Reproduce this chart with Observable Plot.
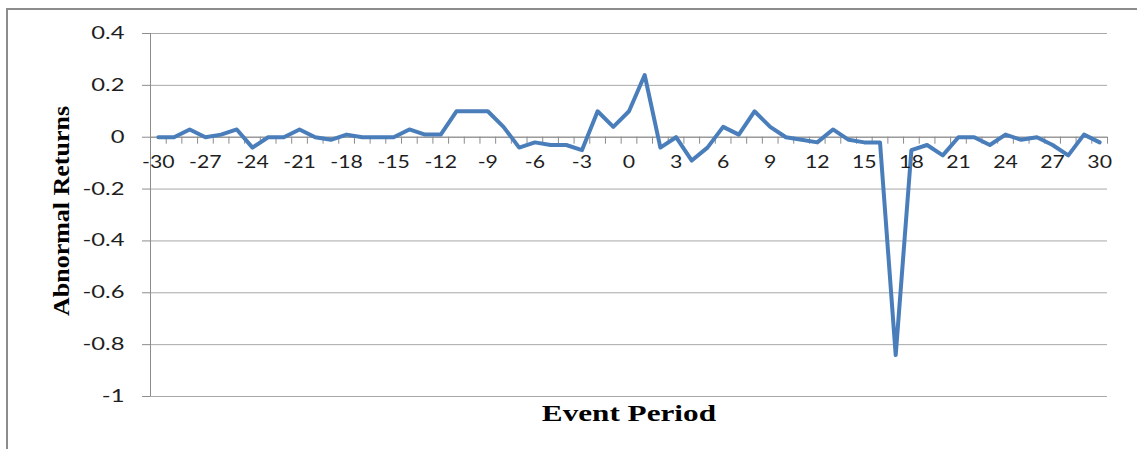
<!DOCTYPE html>
<html>
<head>
<meta charset="utf-8">
<script src="https://cdn.jsdelivr.net/npm/d3@7"></script>
<script src="https://cdn.jsdelivr.net/npm/@observablehq/plot@0.6"></script>
<style>
  html, body { margin: 0; padding: 0; background: #fff; overflow: hidden; }
  #wrap { position: relative; width: 1137px; height: 449px; }
  #border { position: absolute; left: 6px; top: 8px; width: 1300px; height: 600px;
            border-left: 2px solid #8c8c8c; border-top: 2px solid #8c8c8c; pointer-events: none; }
  #chart { position: absolute; left: 0; top: 0; }
</style>
</head>
<body>
<div id="wrap"><div id="border"></div><div id="chart"></div></div>
<script>
const periods = [-30,-29,-28,-27,-26,-25,-24,-23,-22,-21,-20,-19,-18,-17,-16,-15,-14,-13,-12,-11,-10,-9,-8,-7,-6,-5,-4,-3,-2,-1,0,1,2,3,4,5,6,7,8,9,10,11,12,13,14,15,16,17,18,19,20,21,22,23,24,25,26,27,28,29,30];
const abnormalReturns = [0,0,0.03,0,0.01,0.03,-0.04,0,0,0.03,0,-0.01,0.01,0,0,0,0.03,0.01,0.01,0.10,0.10,0.10,0.04,-0.04,-0.02,-0.03,-0.03,-0.05,0.10,0.04,0.10,0.24,-0.04,0,-0.09,-0.04,0.04,0.01,0.10,0.04,0,-0.01,-0.02,0.03,-0.01,-0.02,-0.02,-0.84,-0.05,-0.03,-0.07,0,0,-0.03,0.01,-0.01,0,-0.03,-0.07,0.01,-0.02];
const yTickValues = [0.4,0.2,0,-0.2,-0.4,-0.6,-0.8,-1];
const xTickValues = [-30,-27,-24,-21,-18,-15,-12,-9,-6,-3,0,3,6,9,12,15,18,21,24,27,30];
const xTickLabels = ["-30","-27","-24","-21","-18","-15","-12","-9","-6","-3","0","3","6","9","12","15","18","21","24","27","30"];
const yTitle = "Abnormal Returns";
const xTitle = "Event Period";

const data = periods.map((p, i) => ({period: p, ar: abnormalReturns[i]}));
const boundaries = periods.map(p => p - 0.5).concat([periods[periods.length - 1] + 0.5]);
const xLabels = xTickValues.map((v, i) => ({x: v, label: xTickLabels[i]}));

const tickFont = "Lato, 'Open Sans', sans-serif";
const titleFont = "'Liberation Serif', 'Times New Roman', serif";

const chart = Plot.plot({
  width: 1137,
  height: 449,
  marginLeft: 150,
  marginRight: 30,
  marginTop: 33,
  marginBottom: 53,
  style: {background: "transparent", overflow: "visible"},
  x: {domain: [boundaries[0], boundaries[boundaries.length - 1]], axis: null},
  y: {domain: [-1, 0.4], axis: null},
  marks: [
    Plot.gridY(yTickValues, {stroke: "#a8a8a8", strokeOpacity: 1, strokeWidth: 1}),
    Plot.ruleY([0], {stroke: "#8c8c8c", strokeWidth: 1}),
    Plot.ruleX(boundaries, {x: d => d, y1: 0, y2: 0, insetBottom: -7, stroke: "#8c8c8c"}),
    Plot.ruleX([boundaries[0]], {stroke: "#8c8c8c", strokeWidth: 1}),
    Plot.axisY(yTickValues, {
      tickSize: 8, tickPadding: 18, stroke: "#8c8c8c", fill: "#1e1e1e",
      fontSize: 17, fontFamily: tickFont, label: null,
      tickFormat: d => String(+d.toFixed(1))
    }),
    Plot.line(data, {x: "period", y: "ar", stroke: "#4a7ebb", strokeWidth: 4, strokeLinejoin: "round", strokeLinecap: "round"}),
    Plot.text(xLabels, {x: "x", y: 0, text: "label", dy: 25, fontSize: 17, fontFamily: tickFont, fill: "#1e1e1e"}),
    Plot.text([yTitle], {frameAnchor: "left", textAnchor: "middle", lineAnchor: "middle", rotate: -90, dx: -89, dy: -4, fontSize: 23, fontWeight: "bold", fontFamily: titleFont, fill: "#000"}),
    Plot.text([xTitle], {frameAnchor: "bottom", textAnchor: "middle", lineAnchor: "middle", dy: 17, fontSize: 24, fontWeight: "bold", fontFamily: titleFont, fill: "#000"})
  ]
});
document.getElementById("chart").appendChild(chart);

// widen glyphs along the text direction, keeping each text's anchor point fixed
const svgRoot = chart.tagName.toLowerCase() === "svg" ? chart : chart.querySelector("svg");
function stretchEl(el, k) {
  try {
    const bb = el.getBBox();
    const anchor = getComputedStyle(el).textAnchor;
    const ax = anchor === "end" ? bb.x + bb.width : anchor === "start" ? bb.x : bb.x + bb.width / 2;
    const ay = bb.y + bb.height / 2;
    const list = el.transform.baseVal;
    const t1 = svgRoot.createSVGTransform(); t1.setTranslate(ax, ay);
    const t2 = svgRoot.createSVGTransform(); t2.setScale(k, 1);
    const t3 = svgRoot.createSVGTransform(); t3.setTranslate(-ax, -ay);
    list.appendItem(t1); list.appendItem(t2); list.appendItem(t3);
  } catch (e) { /* leave text unstretched */ }
}
const yTickTexts = new Set(svgRoot.querySelectorAll('g[aria-label="y-axis tick label"] text'));
svgRoot.querySelectorAll("text").forEach(el => {
  const s = el.textContent;
  if (yTickTexts.has(el)) stretchEl(el, 1.4);
  else if (s === xTitle) stretchEl(el, 1.3);
  else if (s === yTitle) stretchEl(el, 1.13);
  else if (xTickLabels.includes(s)) stretchEl(el, 1.25);
});
</script>
</body>
</html>
